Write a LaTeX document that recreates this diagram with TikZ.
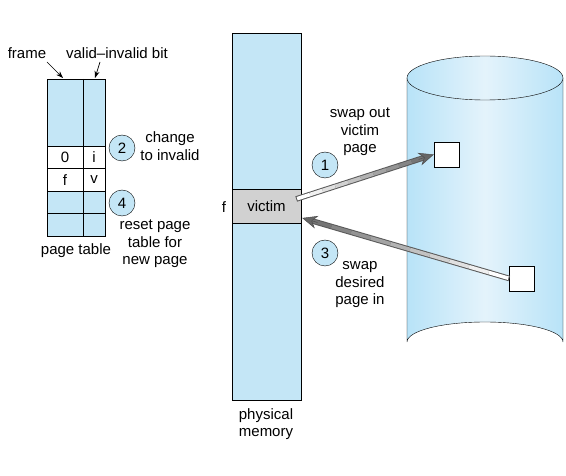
\documentclass[tikz,border=0pt]{standalone}
\usepackage{fontspec}
\setmainfont{Liberation Sans}
\usetikzlibrary{calc, arrows.meta}
\definecolor{pagefill}{RGB}{196,230,246}
\definecolor{cylblue}{RGB}{184,227,248}
\definecolor{cylmid}{RGB}{228,243,251}

\tikzset{
  lbl/.style={align=center, font=\fontsize{15}{17.5}\selectfont},
  stepnum/.style={draw, circle, fill=pagefill, minimum size=26pt, inner sep=0pt, font=\fontsize{15}{15}\selectfont},
  blk/.style={draw, fill=white, minimum size=25pt, inner sep=0pt},
  thin arrow/.style={-{Stealth[length=7pt, width=5pt]}, line width=0.7pt}
}

% big shaded arrow from #1 to #2
\newcommand{\swaparrow}[2]{%
  \coordinate (tailin) at ($(#1)!1pt!(#2)$);
  \coordinate (shaftend) at ($(#2)!10pt!(#1)$);
  \draw[line width=5.6pt, draw=black!65] (#1) -- (shaftend);
  \foreach \t in {0,...,9} {
    \pgfmathsetmacro\c{int(6*\t)}
    \draw[line width=3.6pt, draw=black!\c] ($(tailin)!{\t/10}!(shaftend)$) -- ($(tailin)!{(\t+1)/10}!(shaftend)$);
  }
  \draw[-{Stealth[length=15pt, width=13pt, fill=black!60]}, draw=black!70, line width=0.5pt] ($(#2)!16pt!(#1)$) -- (#2);
}

\begin{document}
\begin{tikzpicture}[x=1pt, y=-1pt]
  \useasboundingbox (0,0) rectangle (566,476);

  % page table
  \filldraw[fill=pagefill] (47,79) rectangle (105,236);
  \fill[white] (47,146) rectangle (105,191);
  \draw (47,79) rectangle (105,236);
  \draw (83,79) -- (83,236);
  \foreach \y in {146,168,191,213}
    \draw (47,\y) -- (105,\y);
  \node[lbl] (p0) at (65,157) {0};
  \node[lbl] (pi) at (94,157) {i};
  \node[lbl] (pf) at (65,180) {f};
  \node[lbl] (pv) at (94,180) {v};
  \node[lbl] (ptlabel) at (76,251) {page table};

  \node[lbl] (frame) at (27,53) {frame};
  \node[lbl] (vbit) at (117,53) {valid--invalid bit};
  \coordinate (fcol) at (63,78);
  \coordinate (vcol) at (95,78);
  \draw[thin arrow] (47,62) -- (fcol);
  \draw[thin arrow] (100,62) -- (vcol);

  \node[stepnum] (s2) at (122,148) {2};
  \node[lbl] (chg) at (170,146) {change\\to invalid};
  \node[stepnum] (s4) at (122,203) {4};
  \node[lbl] (reset) at (155,244) {reset page\\table for\\new page};

  % physical memory
  \node[draw, fill=pagefill, minimum width=69pt, minimum height=367pt, inner sep=0pt] (mem) at (266.5,216.5) {};
  \node[draw, fill=black!18, minimum width=69pt, minimum height=34pt, inner sep=0pt, lbl] (victim) at (266.5,206) {victim};
  \node[lbl] (fv) at (224,207) {f};
  \node[lbl] (memlabel) at (266,424) {physical\\memory};

  % backing store
  \shade[left color=cylblue, right color=cylblue, middle color=cylmid]
    (407,78) -- (407,342) arc[start angle=180, end angle=360, x radius=78, y radius=20]
    -- (563,78) arc[start angle=0, end angle=180, x radius=78, y radius=22] -- cycle;
  \draw (407,78) -- (407,342) arc[start angle=180, end angle=360, x radius=78, y radius=20] -- (563,78);
  \shade[draw, left color=cylblue, right color=cylblue, middle color=cylmid] (485,78) ellipse[x radius=78, y radius=22];

  \node[blk] (out) at (446.5,154.5) {};
  \node[blk] (in) at (522,278.5) {};

  % swapping
  \node[stepnum] (s1) at (325,165) {1};
  \node[lbl] (swapout) at (360,132) {swap out\\victim\\page};
  \node[stepnum] (s3) at (325,253) {3};
  \node[lbl] (swapin) at (360,285) {swap\\desired\\page in};

  \coordinate (vout) at ($(victim.east)+(-5,-7)$);
  \coordinate (vin) at ($(victim.east)+(1,12)$);
  \swaparrow{vout}{out.west}
  \swaparrow{in.west}{vin}
\end{tikzpicture}
\end{document}
